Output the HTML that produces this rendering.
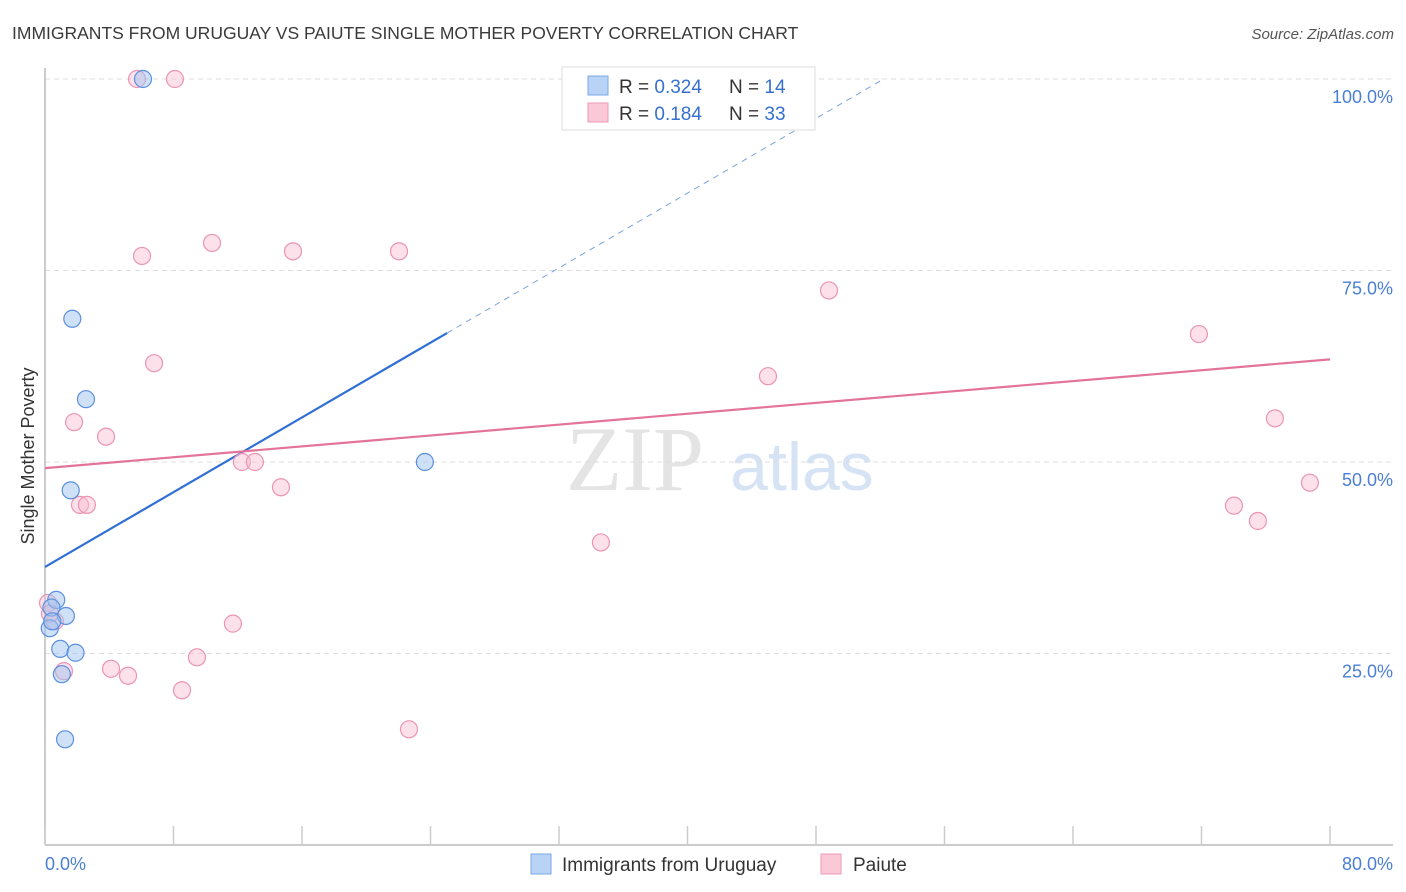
<!DOCTYPE html>
<html><head><meta charset="utf-8">
<style>
body{margin:0;background:#fff;font-family:"Liberation Sans",sans-serif;}
svg{display:block}
</style></head>
<body>
<svg id="chart" width="1406" height="892" xmlns="http://www.w3.org/2000/svg">
<text x="12" y="39" font-size="17.5" fill="#3a3a3a">IMMIGRANTS FROM URUGUAY VS PAIUTE SINGLE MOTHER POVERTY CORRELATION CHART</text>
<text x="1394" y="39" font-size="15" fill="#555" font-style="italic" text-anchor="end">Source: ZipAtlas.com</text>
<text x="635" y="490" font-size="92" fill="#e4e4e4" font-family="Liberation Serif,serif" text-anchor="middle">ZIP</text>
<text x="802" y="490" font-size="68" fill="#d6e3f5" text-anchor="middle">atlas</text>
<g id="grid"></g>
<g id="axes"></g>
<g id="lines"></g>
<g id="points"></g>
<text transform="translate(34,456) rotate(-90)" font-size="18" fill="#333" text-anchor="middle">Single Mother Poverty</text>
<text x="45" y="870" font-size="18" fill="#4a7fd4">0.0%</text>
<text x="1393" y="870" font-size="18" fill="#4a7fd4" text-anchor="end">80.0%</text>
<g>
<rect x="562" y="67" width="253" height="63" fill="#fff" stroke="#ddd"/>
<rect x="588" y="76" width="20" height="19" fill="#b8d3f5" stroke="#7aa8e6"/>
<rect x="588" y="103" width="20" height="19" fill="#fbc8d7" stroke="#ec9ab5"/>
<text x="619" y="93" font-size="19" fill="#333">R = <tspan fill="#3570d0">0.324</tspan></text>
<text x="729" y="93" font-size="19" fill="#333">N = <tspan fill="#3570d0">14</tspan></text>
<text x="619" y="120" font-size="19" fill="#333">R = <tspan fill="#3570d0"> 0.184</tspan></text>
<text x="729" y="120" font-size="19" fill="#333">N = <tspan fill="#3570d0">33</tspan></text>
</g>
<g>
<rect x="531" y="854" width="20" height="20" fill="#b8d3f5" stroke="#7aa8e6"/>
<text x="562" y="871" font-size="19" fill="#333">Immigrants from Uruguay</text>
<rect x="821" y="854" width="20" height="20" fill="#fbc8d7" stroke="#ec9ab5"/>
<text x="853" y="871" font-size="19" fill="#333">Paiute</text>
</g>
</svg>
<script>
const yTicks=[25,50,75,100];
const yTickLabels=["25.0%","50.0%","75.0%","100.0%"];
const xTicks=[0,8,16,24,32,40,48,56,64,72,80];
const uruguayX=[6.1,1.7,2.55,1.6,23.65,0.7,0.4,1.3,0.3,0.45,0.95,1.9,1.05,1.25];
const uruguayY=[100,68.7,58.2,46.3,50.0,32.0,31.0,29.9,28.3,29.2,25.6,25.1,22.3,13.8];
const paiuteX=[5.73,8.09,45.95,10.4,6.04,15.44,22.04,48.81,6.79,45.01,71.84,1.81,3.8,76.57,12.26,13.07,14.69,2.18,2.61,78.75,74.02,75.51,34.61,11.7,0.62,9.46,4.11,1.18,5.17,8.53,22.66,0.19,0.31];
const paiuteY=[100,100,100,78.6,76.9,77.5,77.5,72.4,62.9,61.2,66.7,55.2,53.3,55.7,50,50,46.7,44.4,44.4,47.3,44.3,42.3,39.5,28.9,29.2,24.5,23.0,22.7,22.1,20.2,15.1,31.6,30.2];
const uruguayTrend=[36.3,1.22];
const paiuteTrend=[49.2,0.1775];
const NS="http://www.w3.org/2000/svg";
const X=v=>45+v/80*1285;
const Y=v=>845-v/100*766;
function mk(tag,attrs,parent){const e=document.createElementNS(NS,tag);for(const k in attrs)e.setAttribute(k,attrs[k]);document.getElementById(parent).appendChild(e);return e;}
yTicks.forEach((t,i)=>{
 const l=mk('line',{x1:45,x2:1393,y1:Y(t),y2:Y(t),stroke:'#ddd','stroke-dasharray':'5,4'},'grid');
 
 
 const tx=mk('text',{x:1393,y:Y(t)+24,'font-size':18,fill:'#4a7fd4','text-anchor':'end'},'grid');
 tx.textContent=yTickLabels[i];
 
 
});
const xa=mk('line',{x1:45,x2:1393,y1:845,y2:845,stroke:'#bbb','stroke-width':1.5},'axes');


const ya=mk('line',{x1:45,x2:45,y1:68,y2:845,stroke:'#bbb','stroke-width':1.5},'axes');


xTicks.forEach(t=>{
 const l=mk('line',{x1:X(t),x2:X(t),y1:826,y2:845,stroke:'#ccc','stroke-width':1.5},'axes');
 
 
});
// blue trend: solid to 25, dashed beyond
const bSplit=25.03, bEnd=(100-uruguayTrend[0])/uruguayTrend[1];
const bl=mk('line',{x1:X(0),y1:Y(uruguayTrend[0]),x2:X(bSplit),y2:Y(uruguayTrend[0]+uruguayTrend[1]*bSplit),stroke:'#2f6fd6','stroke-width':2.2},'lines');


const bd=mk('line',{x1:X(bSplit),y1:Y(uruguayTrend[0]+uruguayTrend[1]*bSplit),x2:X(bEnd),y2:Y(100),stroke:'#7aa3e0','stroke-width':1,'stroke-dasharray':'6,5'},'lines');


const pl=mk('line',{x1:X(0),y1:Y(paiuteTrend[0]),x2:X(80),y2:Y(paiuteTrend[0]+paiuteTrend[1]*80),stroke:'#e4739a','stroke-width':2.2},'lines');


paiuteX.forEach((v,i)=>{
 const c=mk('circle',{cx:X(v),cy:Y(paiuteY[i]),r:8.5,fill:'rgba(248,188,208,0.45)',stroke:'#ec94b2','stroke-width':1.2},'points');
 
 
});
uruguayX.forEach((v,i)=>{
 const c=mk('circle',{cx:X(v),cy:Y(uruguayY[i]),r:8.5,fill:'rgba(160,196,240,0.5)',stroke:'#5b8fe0','stroke-width':1.2},'points');
 
 
});
</script>
</body></html>
